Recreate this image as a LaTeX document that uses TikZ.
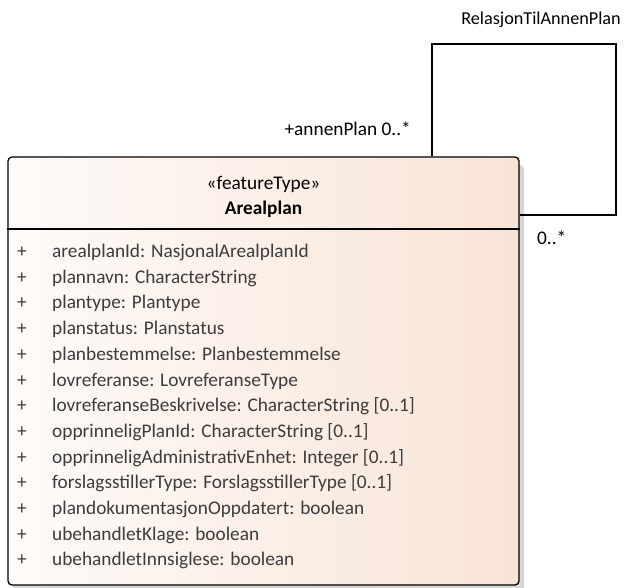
\documentclass[tikz,border=0pt]{standalone}
\usepackage{fontspec}
\setmainfont{Carlito}
\usetikzlibrary{shadows}
\definecolor{fillL}{RGB}{254,251,249}
\definecolor{fillR}{RGB}{248,228,214}
\definecolor{attrtext}{RGB}{60,60,60}
\definecolor{shadowgray}{RGB}{215,215,215}
\newcommand{\umlfont}{\fontsize{19.3}{22}\selectfont}
\begin{document}
\begin{tikzpicture}[x=1pt,y=-1pt,
  classbox/.style={draw=black,line width=1.3pt,rounded corners=4pt,
    left color=fillL,right color=fillR,
    drop shadow={shadow xshift=5pt,shadow yshift=-8pt,fill=shadowgray,opacity=1},
    minimum width=511pt,minimum height=428pt,inner sep=0pt},
  assoc/.style={draw=black,line width=1.1pt},
  lbl/.style={font=\umlfont,inner sep=0pt,text=black},
  attr/.style={font=\umlfont,inner sep=0pt,text=attrtext,anchor=base west},
  vis/.style={font=\umlfont,inner sep=0pt,text=attrtext,anchor=base}]
\useasboundingbox (0,0) rectangle (626,588);
% class Arealplan
\node[classbox] (cls) at (263.5,371) {};
\node[lbl] (stereo) at (263.5,184) {«featureType»};
\node[lbl,font=\umlfont\bfseries] (name) at (263.5,209) {Arealplan};
\coordinate (hdr) at (0,229);
\draw[line width=1.1pt] (cls.west |- hdr) -- (cls.east |- hdr);
% attributes
\foreach \i/\t in {0/{arealplanId: NasjonalArealplanId},
  1/{plannavn: CharacterString},
  2/{plantype: Plantype},
  3/{planstatus: Planstatus},
  4/{planbestemmelse: Planbestemmelse},
  5/{lovreferanse: LovreferanseType},
  6/{lovreferanseBeskrivelse: CharacterString [0..1]},
  7/{opprinneligPlanId: CharacterString [0..1]},
  8/{opprinneligAdministrativEnhet: Integer [0..1]},
  9/{forslagsstillerType: ForslagsstillerType [0..1]},
  10/{plandokumentasjonOppdatert: boolean},
  11/{ubehandletKlage: boolean},
  12/{ubehandletInnsiglese: boolean}}{
  \node[vis] (v\i) at (22,257.5+25.7*\i) {+};
  \node[attr] (a\i) at (52,257.5+25.7*\i) {\t};
}
% self association RelasjonTilAnnenPlan
\coordinate (up) at (432,44);
\coordinate (rt) at (616,215);
\draw[assoc] (cls.north -| up) -- (up) -- (rt |- up) -- (rt) -- (cls.east |- rt);
\node[lbl,anchor=mid east,font=\fontsize{18.2}{21}\selectfont] (relname) at (621,22) {RelasjonTilAnnenPlan};
\node[lbl,anchor=mid east] (role) at (411,133) {+annenPlan 0..*};
\node[lbl,anchor=mid west] (mult) at (537,242) {0..*};
\end{tikzpicture}
\end{document}
